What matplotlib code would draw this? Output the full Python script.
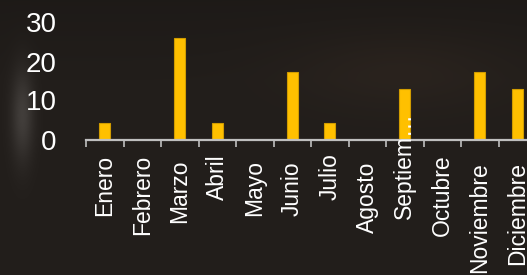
import numpy as np
import matplotlib
matplotlib.use("Agg")
import matplotlib.pyplot as plt
from matplotlib.transforms import ScaledTranslation

# ---- data ----
months = ["Enero", "Febrero", "Marzo", "Abril", "Mayo", "Junio", "Julio",
          "Agosto", "Septiem\u2026", "Octubre", "Noviembre", "Diciembre"]
counts = [1, 0, 6, 1, 0, 4, 1, 0, 3, 0, 4, 3]
total = 23
values = [100.0 * c / total for c in counts]
y_ticks = [0, 10, 20, 30]

# ---- style ----
W, H, DPI = 527, 275, 100
bar_color = "#FFC000"
bar_edge = "#D19C00"
text_color = "#FFFFFF"
axis_color = "#BFBFBF"
# extra downward shift (pixels) of each month label's end, from the reference
label_shift_px = [0, 0, 5, 0, 5, 7, -2, 7, -43, 0, 7, 7]

plt.rcParams['font.family'] = ['Liberation Sans', 'DejaVu Sans']

fig = plt.figure(figsize=(W / DPI, H / DPI), dpi=DPI)

# background (dark photo-like texture approximation)
bg = fig.add_axes([0, 0, 1, 1], zorder=-10)
yy, xx = np.mgrid[0:H, 0:W]
base = np.array([34, 30, 27], dtype=float)
img = np.ones((H, W, 3)) * base
img *= (0.88 + 0.12 * np.clip(yy / 80.0, 0, 1))[..., None]
blob = np.exp(-(((xx - 22) / 11.0) ** 2) - (((yy - 115) / 45.0) ** 2))
img += (blob * 32)[..., None]
blob2 = np.exp(-(((xx - 400) / 110.0) ** 2) - (((yy - 70) / 40.0) ** 2))
img += blob2[..., None] * np.array([8.0, 5.0, 3.0])[None, None, :]
img = np.clip(img, 0, 255) / 255.0
bg.imshow(img, aspect='auto', interpolation='bilinear')
bg.axis('off')
fig.patch.set_facecolor('#221e1b')

left = 86 / W
bottom = (H - 139.5) / H
width = 450 / W
height = 117 / H
ax = fig.add_axes([left, bottom, width, height])
ax.patch.set_alpha(0)

x = np.arange(len(months))
ax.bar(x, values, width=0.3, color=bar_color, edgecolor=bar_edge, linewidth=0.8, zorder=1)

ax.set_xlim(-0.5, len(months) - 0.5)
ax.set_ylim(0, 30)
ax.set_yticks(y_ticks)
ax.set_yticklabels([str(v) for v in y_ticks], fontsize=20, color=text_color)

ax.set_xticks(x)
ax.set_xticklabels(months, rotation=90, fontsize=16.5, color=text_color, va='top', ha='center')
ax.set_xticks(np.arange(-0.5, len(months) + 0.5, 1.0), minor=True)

for s in ['top', 'right', 'left']:
    ax.spines[s].set_visible(False)
ax.spines['bottom'].set_color(axis_color)
ax.spines['bottom'].set_linewidth(1.6)
ax.spines['bottom'].set_zorder(4)
ax.xaxis.set_zorder(5)

ax.tick_params(axis='y', length=0, pad=21)
ax.tick_params(axis='x', which='major', length=0, pad=11)
ax.tick_params(axis='x', which='minor', length=5, width=1.2, color=axis_color, direction='out')

for lab, dpx in zip(ax.get_xticklabels(), label_shift_px):
    lab.set_transform(lab.get_transform() + ScaledTranslation(0, -dpx / DPI, fig.dpi_scale_trans))

fig.savefig("out.png", dpi=DPI, facecolor=fig.get_facecolor())
